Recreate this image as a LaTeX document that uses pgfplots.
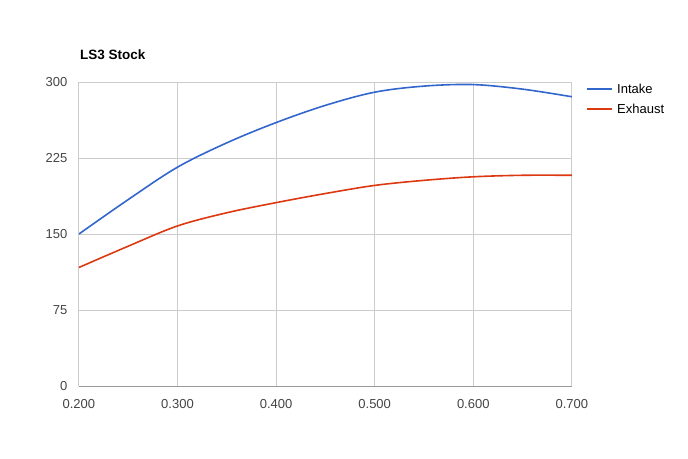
\documentclass[border=0pt]{standalone}
\usepackage{pgfplots}
\pgfplotsset{compat=1.18}
\usepackage{fontspec}
\setmainfont{Liberation Sans}
\definecolor{intake}{HTML}{3366CC}
\definecolor{exhaust}{HTML}{DC3912}
\definecolor{gridc}{HTML}{CCCCCC}
\definecolor{tickc}{HTML}{444444}
\begin{document}
\begin{tikzpicture}[x=1pt,y=1pt]
\useasboundingbox (0,0) rectangle (688,458);
\node[anchor=west,inner sep=0pt,font=\fontsize{13.5}{15}\selectfont\bfseries] at (80,403) {LS3 Stock};
\begin{axis}[
  at={(80,71)}, anchor=south west,
  scale only axis, width=493pt, height=304pt,
  xmin=0.2, xmax=0.7, ymin=0, ymax=300,
  xtick={0.2,0.3,0.4,0.5,0.6,0.7},
  xticklabels={0.200,0.300,0.400,0.500,0.600,0.700},
  ytick={0,75,150,225,300},
  grid=major,
  major grid style={gridc, line width=0.8pt},
  axis line style={draw=none},
  tick style={draw=none},
  ticklabel style={font=\fontsize{13}{15}\selectfont, text=tickc},
  /pgf/number format/assume math mode=true,
  xticklabel style={yshift=-10pt},
  yticklabel style={xshift=-8pt},
]
\draw[color=black!40, line width=1pt] (axis cs:0.2,0) -- (axis cs:0.7,0);
\addplot[intake, line width=1.6pt, smooth, tension=0.55] coordinates {
(0.20,150) (0.25,184) (0.30,216) (0.35,240) (0.40,260) (0.45,277)
(0.50,290) (0.55,296) (0.60,297.5) (0.65,293) (0.70,285.5)};
\addplot[exhaust, line width=1.6pt, smooth, tension=0.55] coordinates {
(0.20,117) (0.25,138) (0.30,158) (0.35,171) (0.40,181) (0.45,190)
(0.50,198) (0.55,203) (0.60,206.5) (0.65,208) (0.70,208)};
\end{axis}
\draw[intake, line width=1.6pt] (587,369) -- (612,369);
\node[anchor=west, inner sep=0pt, font=\fontsize{13}{15}\selectfont] at (617,369) {Intake};
\draw[exhaust, line width=1.6pt] (587,349) -- (612,349);
\node[anchor=west, inner sep=0pt, font=\fontsize{13}{15}\selectfont] at (617,349) {Exhaust};
\end{tikzpicture}
\end{document}
